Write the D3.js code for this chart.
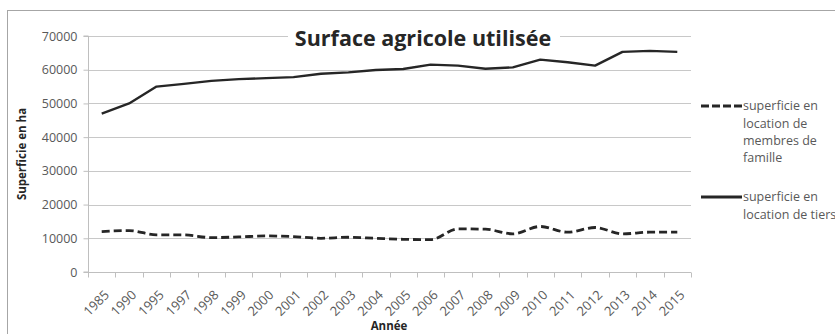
<!DOCTYPE html>
<html><head><meta charset="utf-8">
<script src="https://cdn.jsdelivr.net/npm/d3@7"></script>
<style>body{margin:0;background:#fff}svg{display:block}</style>
</head><body>
<svg id="c" width="835" height="334"></svg>
<script>
const years = ["1985","1990","1995","1997","1998","1999","2000","2001","2002","2003","2004","2005","2006","2007","2008","2009","2010","2011","2012","2013","2014","2015"];
const famille = [12000,12300,11000,11000,10200,10400,10700,10500,10000,10300,10000,9700,9600,12800,12700,11300,13500,11800,13200,11300,11800,11800];
const tiers = [47000,50000,55000,55800,56700,57200,57500,57800,58800,59200,59900,60200,61500,61200,60300,60700,63000,62200,61200,65300,65600,65300];
const yTicks = [0,10000,20000,30000,40000,50000,60000,70000];
const seriesNames = ["superficie en location de membres de famille","superficie en location de tiers"];
const legendLines = [["superficie en","location de","membres de","famille"],["superficie en","location de tiers"]];

(function(){
const svg = d3.select("#c");
const font = "'Open Sans', 'DejaVu Sans', sans-serif";
const pL = 88, pR = 691, pT = 36, pB = 272;

svg.append("rect").attr("x",7.5).attr("y",10.5).attr("width",900).attr("height",400)
  .attr("fill","#fff").attr("stroke","#a6a6a6");

const x = d3.scaleBand().domain(years).range([pL,pR]);
const y = d3.scaleLinear().domain([0,70000]).range([pB,pT]);

// gridlines
svg.append("g").selectAll("line").data(yTicks.slice(1)).join("line")
  .attr("x1",pL).attr("x2",pR).attr("y1",d=>Math.round(y(d))+0.5).attr("y2",d=>Math.round(y(d))+0.5)
  .attr("stroke","#c8c8c8").attr("stroke-width",1.2);

// y axis
const ya = svg.append("g").attr("transform",`translate(${pL+0.5},0)`)
  .call(d3.axisLeft(y).tickValues(yTicks).tickSize(5).tickPadding(6).tickFormat(d3.format("d")));
ya.select(".domain").attr("stroke","#bfbfbf").attr("d",`M-5,${pB}H0V${pT}H-5`);
ya.selectAll(".tick line").attr("stroke","#bfbfbf");
ya.selectAll(".tick text").attr("fill","#595959").style("font-family",font).style("font-size","12.5px");

// x axis
const xa = svg.append("g").attr("transform",`translate(0,${Math.round(pB)+0.5})`)
  .call(d3.axisBottom(x).tickSize(0).tickPadding(0));
xa.select(".domain").attr("stroke","#bfbfbf").attr("d",`M${pL},0H${pR}`);
xa.selectAll(".tick line").remove();
const bounds = years.map(d=>x(d)).concat([pR]);
xa.append("g").selectAll("line").data(bounds).join("line")
  .attr("x1",d=>Math.round(d)+0.5).attr("x2",d=>Math.round(d)+0.5).attr("y1",0).attr("y2",5)
  .attr("stroke","#bfbfbf");
xa.selectAll(".tick text").attr("fill","#595959").style("font-family",font).style("font-size","13px")
  .attr("text-anchor","end").attr("dy","0.35em")
  .attr("transform","translate(5,20) rotate(-45)");

// lines
const lineFam = d3.line().x((d,i)=>x(years[i])+x.bandwidth()/2).y(d=>y(d)).curve(d3.curveMonotoneX);
const lineTiers = d3.line().x((d,i)=>x(years[i])+x.bandwidth()/2).y(d=>y(d));
svg.append("path").datum(famille).attr("d",lineFam).attr("fill","none").attr("stroke","#262626")
  .attr("stroke-width",2.8).attr("stroke-dasharray","8,4");
svg.append("path").datum(tiers).attr("d",lineTiers).attr("fill","none").attr("stroke","#262626")
  .attr("stroke-width",2.4).attr("stroke-linejoin","round");

// title
svg.append("rect").attr("x",288).attr("y",22).attr("width",272).attr("height",30).attr("fill","#fff");
svg.append("text").attr("x",423).attr("y",46).attr("text-anchor","middle")
  .style("font-family",font).style("font-weight","bold").style("font-size","21.5px").attr("fill","#262626")
  .text("Surface agricole utilisée");

// axis titles
svg.append("text").attr("transform","translate(26,154) rotate(-90)").attr("text-anchor","middle")
  .style("font-family",font).style("font-weight","bold").style("font-size","11.5px").attr("fill","#262626")
  .text("Superficie en ha");
svg.append("text").attr("x",389).attr("y",330).attr("text-anchor","middle")
  .style("font-family",font).style("font-weight","bold").style("font-size","11.5px").attr("fill","#262626")
  .text("Année");

// legend
const legY = [106,197];
const leg = svg.append("g");
seriesNames.forEach((name,i)=>{
  const g = leg.append("g").attr("transform",`translate(0,${legY[i]})`);
  g.append("line").attr("x1",701).attr("x2",742).attr("y1",0).attr("y2",0)
    .attr("stroke","#262626").attr("stroke-width",2.8).attr("stroke-dasharray",i===0?"8,3":null);
  const t = g.append("text").attr("x",743).attr("y",0).attr("fill","#595959")
    .style("font-family",font).style("font-size","12.5px");
  legendLines[i].forEach((s,j)=>t.append("tspan").attr("x",743).attr("dy",j===0?"0.35em":"17.3px").text(s));
});
})();
</script>
</body></html>
